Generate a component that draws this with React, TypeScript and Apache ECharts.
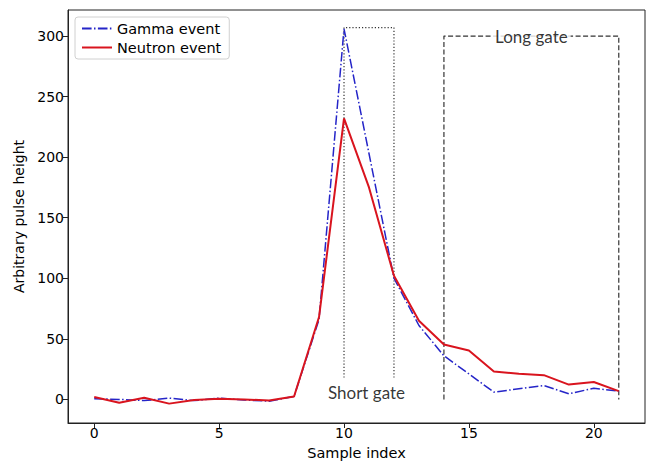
import React, { useEffect, useRef } from "react";
import * as echarts from "echarts";

const sampleIndex = [0, 1, 2, 3, 4, 5, 6, 7, 8, 9, 10, 11, 12, 13, 14, 15, 16, 17, 18, 19, 20, 21];
const gammaEvent = [0.5, 0, -1, 1, -1, 1, -0.5, -1.5, 2.4, 66, 306, 203, 100, 61, 36, 21, 6, 8.7, 11.4, 4.6, 9.2, 6.8];
const neutronEvent = [2, -2.7, 1.4, -3.5, -0.5, 0.5, 0, -1, 2.4, 68, 232, 175, 102, 65, 45.3, 40.4, 23, 21.1, 20, 12.2, 14.4, 6.8];
const xTicks = [0, 5, 10, 15, 20];
const yTicks = [0, 50, 100, 150, 200, 250, 300];
const shortGateBox = [[10, 18], [10, 307], [12, 307], [12, 18]];
const longGateBox = [[14, 0], [14, 300], [21, 300], [21, 0]];
const shortGateLabelPos = [10.9, 6];
const longGateLabelPos = [17.5, 300];

export default function App() {
  const ref = useRef<HTMLDivElement>(null);
  useEffect(() => {
    if (!ref.current) return;
    const chart = echarts.init(ref.current, undefined, { renderer: "svg" });
    const tickFont = { fontFamily: "DejaVu Sans", fontSize: 14, color: "#000" };
    chart.setOption({
      animation: false,
      backgroundColor: "#fff",
      grid: { left: 68, right: 5, top: 10, bottom: 36, show: true, borderColor: "#222", borderWidth: 1 },
      legend: {
        left: 75,
        top: 17,
        orient: "vertical",
        data: ["Gamma event", "Neutron event"],
        borderColor: "#d0d0d0",
        borderWidth: 1,
        borderRadius: 3,
        padding: [4, 8, 4, 6],
        itemGap: 4,
        itemWidth: 30,
        itemHeight: 13,
        itemStyle: { opacity: 0 },
        backgroundColor: "rgba(255,255,255,0.9)",
        textStyle: { fontFamily: "DejaVu Sans", fontSize: 14.5, color: "#000" },
      },
      xAxis: {
        type: "value",
        min: -1.05,
        max: 22.05,
        name: "Sample index",
        nameLocation: "middle",
        nameGap: 22,
        nameTextStyle: { fontFamily: "DejaVu Sans", fontSize: 14.5, color: "#000" },
        splitLine: { show: false },
        axisLine: { onZero: false, lineStyle: { color: "#222" } },
        axisTick: { inside: false, length: 5, customValues: xTicks, lineStyle: { color: "#222" } },
        axisLabel: { ...tickFont, margin: 3, customValues: xTicks },
      },
      yAxis: {
        type: "value",
        min: -19.5,
        max: 321.5,
        name: "Arbitrary pulse height",
        nameLocation: "middle",
        nameGap: 41,
        nameTextStyle: { fontFamily: "DejaVu Sans", fontSize: 14, color: "#000" },
        splitLine: { show: false },
        axisLine: { onZero: false, lineStyle: { color: "#222" } },
        axisTick: { inside: false, length: 5, customValues: yTicks, lineStyle: { color: "#222" } },
        axisLabel: { ...tickFont, margin: 4, customValues: yTicks },
      },
      series: [
        {
          type: "line",
          data: shortGateBox,
          symbol: "none",
          silent: true,
          lineStyle: { color: "#333", width: 1.2, type: [1.2, 2] },
        },
        {
          type: "line",
          data: longGateBox,
          symbol: "none",
          silent: true,
          lineStyle: { color: "#333", width: 1.2, type: [5, 2.5] },
        },
        {
          name: "Gamma event",
          type: "line",
          data: sampleIndex.map((x, i) => [x, gammaEvent[i]]),
          symbol: "none",
          color: "#2525c8",
          lineStyle: { color: "#2525c8", width: 1.5, type: [9.6, 2.4, 1.5, 2.4] },
          z: 3,
        },
        {
          name: "Neutron event",
          type: "line",
          data: sampleIndex.map((x, i) => [x, neutronEvent[i]]),
          symbol: "none",
          color: "#d9141e",
          lineStyle: { color: "#d9141e", width: 2 },
          z: 4,
        },
        {
          type: "scatter",
          data: [shortGateLabelPos],
          symbolSize: 0,
          silent: true,
          label: {
            show: true,
            position: "inside",
            formatter: "Short gate",
            fontFamily: "Lato",
            fontSize: 17,
            color: "#000",
          },
        },
        {
          type: "scatter",
          data: [longGateLabelPos],
          symbolSize: 0,
          silent: true,
          z: 5,
          label: {
            show: true,
            position: "inside",
            formatter: "Long gate",
            fontFamily: "Lato",
            fontSize: 17,
            color: "#000",
            backgroundColor: "#fff",
            padding: [0, 3],
          },
        },
      ],
    });
    return () => chart.dispose();
  }, []);
  return <div ref={ref} style={{ width: 650, height: 465, position: "absolute", left: 0, top: 0 }} />;
}
